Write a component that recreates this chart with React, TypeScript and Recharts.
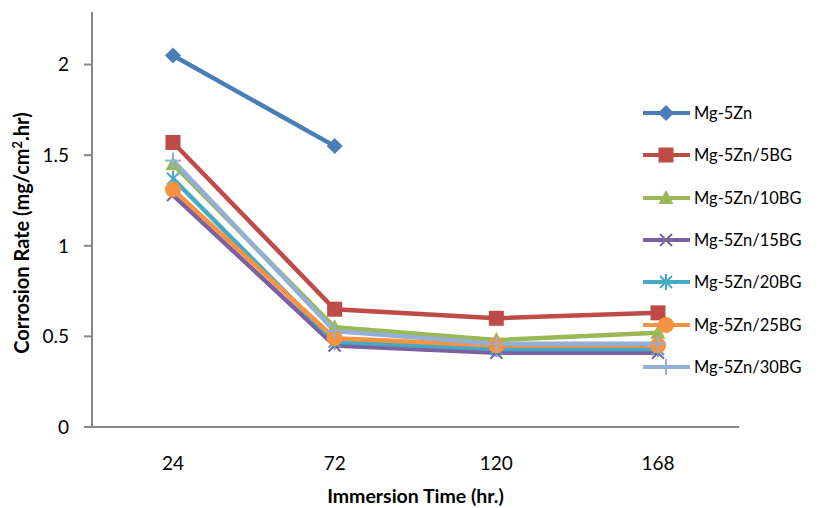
import React from "react";
import { LineChart, Line, XAxis, YAxis, Legend, Label } from "recharts";

// immersion time (hr.)
const categories = ["24", "72", "120", "168"];

// corrosion rate (mg/cm².hr)
const mg5Zn = [2.05, 1.55, null, null];
const mg5Zn5BG = [1.57, 0.65, 0.6, 0.63];
const mg5Zn10BG = [1.45, 0.55, 0.48, 0.52];
const mg5Zn15BG = [1.28, 0.45, 0.41, 0.41];
const mg5Zn20BG = [1.37, 0.47, 0.43, 0.43];
const mg5Zn25BG = [1.31, 0.49, 0.45, 0.45];
const mg5Zn30BG = [1.47, 0.53, 0.46, 0.46];

const yTicks = [0, 0.5, 1, 1.5, 2];

type Shape = "diamond" | "square" | "triangle" | "x" | "star" | "circle" | "plus";

const series: { key: string; name: string; values: (number | null)[]; color: string; shape: Shape }[] = [
  { key: "s0", name: "Mg-5Zn", values: mg5Zn, color: "#4A7EBB", shape: "diamond" },
  { key: "s1", name: "Mg-5Zn/5BG", values: mg5Zn5BG, color: "#BE4B48", shape: "square" },
  { key: "s2", name: "Mg-5Zn/10BG", values: mg5Zn10BG, color: "#98B954", shape: "triangle" },
  { key: "s3", name: "Mg-5Zn/15BG", values: mg5Zn15BG, color: "#7D60A0", shape: "x" },
  { key: "s4", name: "Mg-5Zn/20BG", values: mg5Zn20BG, color: "#46AAC5", shape: "star" },
  { key: "s5", name: "Mg-5Zn/25BG", values: mg5Zn25BG, color: "#F69240", shape: "circle" },
  { key: "s6", name: "Mg-5Zn/30BG", values: mg5Zn30BG, color: "#94AFD6", shape: "plus" },
];

const data = categories.map((c, i) => {
  const row: Record<string, string | number | null> = { time: c };
  series.forEach((s) => (row[s.key] = s.values[i]));
  return row;
});

const FONT = "Lato, 'Open Sans', sans-serif";

function Marker({ shape, cx, cy, color }: { shape: Shape; cx: number; cy: number; color: string }) {
  switch (shape) {
    case "diamond":
      return <polygon points={`${cx},${cy - 8} ${cx + 8},${cy} ${cx},${cy + 8} ${cx - 8},${cy}`} fill={color} />;
    case "square":
      return <rect x={cx - 7.5} y={cy - 7.5} width={15} height={15} fill={color} />;
    case "triangle":
      return <polygon points={`${cx},${cy - 8} ${cx + 7.5},${cy + 6} ${cx - 7.5},${cy + 6}`} fill={color} />;
    case "x":
      return (
        <g stroke={color} strokeWidth={2}>
          <line x1={cx - 6} y1={cy - 6} x2={cx + 6} y2={cy + 6} />
          <line x1={cx - 6} y1={cy + 6} x2={cx + 6} y2={cy - 6} />
        </g>
      );
    case "star":
      return (
        <g stroke={color} strokeWidth={2}>
          <line x1={cx - 6} y1={cy - 6} x2={cx + 6} y2={cy + 6} />
          <line x1={cx - 6} y1={cy + 6} x2={cx + 6} y2={cy - 6} />
          <line x1={cx} y1={cy - 8} x2={cx} y2={cy + 8} />
        </g>
      );
    case "circle":
      return <circle cx={cx} cy={cy} r={8} fill={color} />;
    case "plus":
      return (
        <g stroke={color} strokeWidth={2}>
          <line x1={cx - 8} y1={cy} x2={cx + 8} y2={cy} />
          <line x1={cx} y1={cy - 8} x2={cx} y2={cy + 8} />
        </g>
      );
  }
  return null;
}

function LegendBox() {
  return (
    <div style={{ fontFamily: FONT, fontSize: 16.5, color: "#000" }}>
      {series.map((s) => (
        <div key={s.key} style={{ height: 42.3, display: "flex", alignItems: "center" }}>
          <svg width={53} height={20}>
            <line x1={2} y1={10} x2={49} y2={10} stroke={s.color} strokeWidth={4} />
            <Marker shape={s.shape} cx={25} cy={10} color={s.color} />
          </svg>
          <span style={{ whiteSpace: "nowrap" }}>{s.name}</span>
        </div>
      ))}
    </div>
  );
}

export default function App() {
  return (
    <div style={{ position: "absolute", left: 0, top: 0, width: 827, height: 508, background: "#fff" }}>
      <LineChart width={827} height={508} data={data} margin={{ top: 12, right: 88, bottom: 0, left: 0 }}>
        <XAxis
          dataKey="time"
          padding={{ left: 81, right: 81 }}
          axisLine={{ stroke: "#868686", strokeWidth: 2 }}
          tickLine={false}
          tickSize={0}
          tickMargin={30}
          tick={{ fontSize: 19, fill: "#000", fontFamily: FONT }}
          height={81}
        >
          <Label
            value="Immersion Time (hr.)"
            position="insideBottom"
            offset={5}
            style={{ fontSize: 19.5, fontWeight: 700, fill: "#000", fontFamily: FONT }}
          />
        </XAxis>
        <YAxis
          width={92}
          domain={[0, 2.29]}
          ticks={yTicks}
          interval={0}
          axisLine={{ stroke: "#868686", strokeWidth: 2 }}
          tickLine={{ stroke: "#868686", strokeWidth: 2 }}
          tickSize={8}
          tickMargin={15}
          tick={{ fontSize: 19, fill: "#000", fontFamily: FONT }}
        >
          <Label
            content={() => (
              <text
                x={0}
                y={0}
                transform="translate(29,233) rotate(-90)"
                textAnchor="middle"
                style={{ fontSize: 20, fontWeight: 700, fill: "#000", fontFamily: FONT }}
              >
                Corrosion Rate (mg/cm
                <tspan dy={-7} fontSize={13}>
                  2
                </tspan>
                <tspan dy={7}>.hr)</tspan>
              </text>
            )}
          />
        </YAxis>
        <Legend
          layout="vertical"
          align="center"
          verticalAlign="middle"
          content={() => <LegendBox />}
          wrapperStyle={{ left: 641, top: 92, width: 186 }}
        />
        {series.map((s) => (
          <Line
            key={s.key}
            dataKey={s.key}
            name={s.name}
            stroke={s.color}
            strokeWidth={4.5}
            isAnimationActive={false}
            activeDot={false}
            dot={(p: any) =>
              p.cy == null || p.value == null ? (
                <g key={`${s.key}-${p.index}`} />
              ) : (
                <g key={`${s.key}-${p.index}`}>
                  <Marker shape={s.shape} cx={p.cx} cy={p.cy} color={s.color} />
                </g>
              )
            }
          />
        ))}
      </LineChart>
    </div>
  );
}
